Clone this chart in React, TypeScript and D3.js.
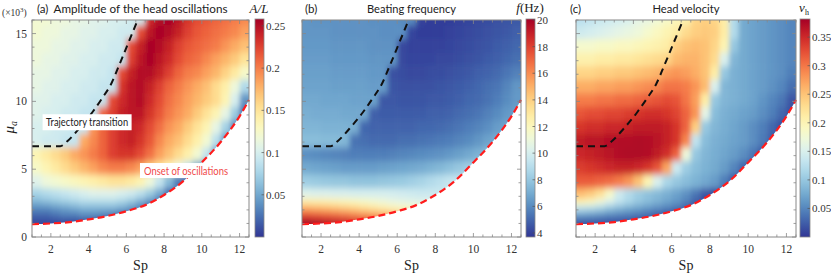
import * as d3 from 'd3';

// Sp cell centres (columns) and mu_a cell centres (rows, top to bottom, x10^3)
const SP_CENTERS = [1.25, 1.75, 2.25, 2.75, 3.25, 3.75, 4.25, 4.75, 5.25, 5.75, 6.25, 6.75, 7.25, 7.75, 8.25, 8.75, 9.25, 9.75, 10.25, 10.75, 11.25, 11.75, 12.25];
const MU_CENTERS = [16.1, 15.1, 14.1, 13.1, 12.1, 11.1, 10.1, 9.1, 8.1, 7.1, 6.1, 5.1, 4.1, 3.1, 2.6, 2.1, 1.6, 1.1];

// onset of oscillations (red dashed)
const ONSET_SP = [1, 2, 3, 4, 5, 6, 7, 8, 9, 10, 11, 12, 12.5];
const ONSET_MU = [0.95, 1.0, 1.1, 1.3, 1.55, 1.9, 2.35, 3.1, 4.1, 5.5, 7.0, 8.9, 10.1];

// trajectory transition (black dashed)
const TRANS_SP = [1, 2.5, 2.9, 3.5, 4.2, 4.7, 5.2, 5.6, 6.1, 6.6];
const TRANS_MU = [6.7, 6.7, 7.1, 8.0, 9.2, 10.2, 11.3, 12.6, 14.3, 16.0];

const X_TICKS = [2, 4, 6, 8, 10, 12];
const Y_TICKS = [0, 5, 10, 15];

// (a) amplitude A/L
const AMP_GRID = [
  [0.12, 0.12, 0.115, 0.115, 0.11, 0.11, 0.105, 0.105, 0.10, 0.10, 0.095, 0.095, 0.235, 0.25, 0.255, 0.245, 0.23, 0.22, 0.215, 0.21, 0.205, 0.20, 0.195],
  [0.12, 0.115, 0.115, 0.11, 0.11, 0.105, 0.105, 0.10, 0.10, 0.095, 0.095, 0.22, 0.245, 0.255, 0.25, 0.24, 0.225, 0.215, 0.21, 0.205, 0.20, 0.195, 0.185],
  [0.115, 0.115, 0.11, 0.11, 0.105, 0.105, 0.10, 0.10, 0.095, 0.095, 0.22, 0.24, 0.255, 0.25, 0.24, 0.225, 0.215, 0.21, 0.205, 0.20, 0.19, 0.18, 0.17],
  [0.115, 0.11, 0.11, 0.105, 0.105, 0.10, 0.10, 0.095, 0.095, 0.09, 0.225, 0.245, 0.255, 0.245, 0.235, 0.22, 0.21, 0.205, 0.195, 0.185, 0.175, 0.165, 0.15],
  [0.11, 0.11, 0.105, 0.105, 0.10, 0.10, 0.095, 0.095, 0.09, 0.22, 0.24, 0.25, 0.25, 0.24, 0.225, 0.21, 0.20, 0.195, 0.185, 0.175, 0.16, 0.145, 0.125],
  [0.11, 0.105, 0.105, 0.10, 0.10, 0.095, 0.095, 0.09, 0.09, 0.23, 0.245, 0.25, 0.24, 0.225, 0.21, 0.20, 0.19, 0.18, 0.17, 0.155, 0.14, 0.115, 0.08],
  [0.105, 0.105, 0.10, 0.10, 0.095, 0.095, 0.09, 0.09, 0.22, 0.235, 0.245, 0.25, 0.235, 0.22, 0.205, 0.195, 0.185, 0.175, 0.165, 0.155, 0.135, 0.10, 0.04],
  [0.105, 0.10, 0.10, 0.095, 0.095, 0.09, 0.09, 0.21, 0.225, 0.24, 0.245, 0.245, 0.23, 0.215, 0.20, 0.19, 0.18, 0.165, 0.15, 0.135, 0.11, 0.07, 0.02],
  [0.10, 0.10, 0.095, 0.095, 0.09, 0.09, 0.19, 0.21, 0.225, 0.235, 0.24, 0.235, 0.22, 0.205, 0.19, 0.18, 0.165, 0.15, 0.135, 0.11, 0.075, 0.035, 0.02],
  [0.10, 0.095, 0.095, 0.09, 0.09, 0.18, 0.195, 0.21, 0.225, 0.235, 0.24, 0.23, 0.215, 0.195, 0.18, 0.17, 0.155, 0.14, 0.12, 0.085, 0.04, 0.02, 0.02],
  [0.135, 0.145, 0.155, 0.165, 0.18, 0.19, 0.20, 0.21, 0.225, 0.23, 0.23, 0.22, 0.205, 0.185, 0.17, 0.155, 0.14, 0.12, 0.09, 0.04, 0.02, 0.02, 0.02],
  [0.125, 0.135, 0.145, 0.155, 0.165, 0.175, 0.185, 0.195, 0.20, 0.20, 0.195, 0.185, 0.165, 0.15, 0.135, 0.115, 0.09, 0.05, 0.02, 0.02, 0.02, 0.02, 0.02],
  [0.105, 0.115, 0.12, 0.125, 0.13, 0.135, 0.14, 0.145, 0.15, 0.15, 0.145, 0.135, 0.115, 0.09, 0.06, 0.03, 0.02, 0.02, 0.02, 0.02, 0.02, 0.02, 0.02],
  [0.075, 0.08, 0.085, 0.09, 0.095, 0.10, 0.105, 0.105, 0.105, 0.10, 0.095, 0.085, 0.07, 0.05, 0.02, 0.02, 0.02, 0.02, 0.02, 0.02, 0.02, 0.02, 0.02],
  [0.055, 0.06, 0.065, 0.07, 0.075, 0.08, 0.08, 0.08, 0.08, 0.075, 0.065, 0.05, 0.035, 0.02, 0.02, 0.02, 0.02, 0.02, 0.02, 0.02, 0.02, 0.02, 0.02],
  [0.035, 0.035, 0.04, 0.045, 0.05, 0.055, 0.055, 0.055, 0.055, 0.05, 0.04, 0.03, 0.015, 0.015, 0.015, 0.015, 0.015, 0.015, 0.015, 0.015, 0.015, 0.015, 0.015],
  [0.02, 0.02, 0.025, 0.03, 0.03, 0.035, 0.035, 0.03, 0.025, 0.015, 0.015, 0.015, 0.015, 0.015, 0.015, 0.015, 0.015, 0.015, 0.015, 0.015, 0.015, 0.015, 0.015],
  [0.008, 0.008, 0.008, 0.008, 0.008, 0.008, 0.008, 0.008, 0.008, 0.008, 0.008, 0.008, 0.008, 0.008, 0.008, 0.008, 0.008, 0.008, 0.008, 0.008, 0.008, 0.008, 0.008],
];

// (b) beating frequency f (Hz)
const FREQ_GRID = [
  [6.3, 6.2, 6.2, 6.2, 6.2, 6.2, 6.2, 6.1, 6.1, 6.1, 6.0, 6.0, 4.0, 3.9, 3.9, 3.9, 4.0, 4.1, 4.2, 4.3, 4.4, 4.5, 4.6],
  [6.3, 6.3, 6.3, 6.2, 6.2, 6.2, 6.2, 6.2, 6.1, 6.1, 6.1, 4.1, 3.9, 3.9, 3.9, 4.0, 4.1, 4.2, 4.3, 4.4, 4.5, 4.6, 4.8],
  [6.4, 6.4, 6.4, 6.3, 6.3, 6.3, 6.3, 6.2, 6.2, 6.2, 4.2, 4.0, 4.0, 4.0, 4.0, 4.1, 4.2, 4.3, 4.4, 4.5, 4.7, 4.8, 5.0],
  [6.5, 6.5, 6.5, 6.4, 6.4, 6.4, 6.4, 6.3, 6.3, 6.3, 4.2, 4.1, 4.1, 4.1, 4.2, 4.2, 4.3, 4.4, 4.5, 4.7, 4.8, 5.0, 5.2],
  [6.6, 6.6, 6.6, 6.5, 6.5, 6.5, 6.5, 6.4, 6.4, 4.4, 4.3, 4.2, 4.2, 4.3, 4.3, 4.4, 4.5, 4.6, 4.8, 4.9, 5.1, 5.4, 5.7],
  [6.7, 6.7, 6.7, 6.6, 6.6, 6.6, 6.6, 6.5, 6.5, 4.5, 4.4, 4.4, 4.4, 4.4, 4.5, 4.6, 4.7, 4.8, 5.0, 5.2, 5.4, 5.8, 6.3],
  [6.9, 6.9, 6.8, 6.8, 6.8, 6.7, 6.7, 6.7, 4.6, 4.6, 4.5, 4.5, 4.5, 4.6, 4.6, 4.7, 4.8, 5.0, 5.1, 5.3, 5.6, 6.0, 6.4],
  [7.1, 7.0, 7.0, 7.0, 6.9, 6.9, 6.9, 4.8, 4.7, 4.7, 4.7, 4.7, 4.7, 4.8, 4.8, 4.9, 5.1, 5.2, 5.4, 5.7, 6.0, 6.4, 6.6],
  [7.3, 7.3, 7.2, 7.2, 7.2, 7.1, 5.0, 4.9, 4.9, 4.9, 4.9, 4.9, 5.0, 5.0, 5.1, 5.2, 5.4, 5.6, 5.8, 6.1, 6.5, 6.8, 6.8],
  [7.6, 7.6, 7.5, 7.5, 7.4, 5.3, 5.2, 5.1, 5.1, 5.1, 5.2, 5.2, 5.3, 5.4, 5.5, 5.6, 5.8, 6.0, 6.3, 6.7, 7.0, 7.0, 7.0],
  [6.1, 6.0, 5.9, 5.8, 5.7, 5.6, 5.6, 5.6, 5.6, 5.7, 5.8, 5.9, 6.0, 6.1, 6.2, 6.4, 6.6, 6.9, 7.2, 7.5, 7.5, 7.5, 7.5],
  [6.9, 6.8, 6.7, 6.6, 6.5, 6.5, 6.5, 6.5, 6.6, 6.7, 6.8, 6.9, 7.0, 7.2, 7.4, 7.7, 8.0, 8.3, 8.3, 8.3, 8.3, 8.3, 8.3],
  [8.2, 8.1, 8.0, 7.9, 7.9, 7.8, 7.8, 7.8, 7.9, 8.0, 8.1, 8.3, 8.5, 8.8, 9.1, 9.4, 9.4, 9.4, 9.4, 9.4, 9.4, 9.4, 9.4],
  [10.3, 10.2, 10.2, 10.1, 10.1, 10.0, 10.0, 10.0, 10.0, 9.9, 9.8, 9.7, 9.6, 9.6, 9.6, 9.6, 9.6, 9.6, 9.6, 9.6, 9.6, 9.6, 9.6],
  [12.8, 12.7, 12.6, 12.4, 12.2, 12.0, 11.7, 11.4, 11.1, 10.8, 10.6, 10.5, 10.4, 10.4, 10.4, 10.4, 10.4, 10.4, 10.4, 10.4, 10.4, 10.4, 10.4],
  [15.2, 15.0, 14.8, 14.6, 14.3, 14.0, 13.6, 13.2, 12.8, 12.4, 12.0, 11.7, 11.5, 11.5, 11.5, 11.5, 11.5, 11.5, 11.5, 11.5, 11.5, 11.5, 11.5],
  [17.6, 17.4, 17.2, 17.0, 16.7, 16.4, 16.1, 15.8, 15.5, 15.2, 15.0, 15.0, 15.0, 15.0, 15.0, 15.0, 15.0, 15.0, 15.0, 15.0, 15.0, 15.0, 15.0],
  [19.8, 19.6, 19.4, 19.1, 18.8, 18.4, 18.0, 17.8, 17.8, 17.8, 17.8, 17.8, 17.8, 17.8, 17.8, 17.8, 17.8, 17.8, 17.8, 17.8, 17.8, 17.8, 17.8],
];

// (c) head velocity v_h
const VEL_GRID = [
  [0.125, 0.13, 0.135, 0.14, 0.145, 0.15, 0.16, 0.165, 0.175, 0.185, 0.195, 0.205, 0.235, 0.24, 0.235, 0.21, 0.12, 0.075, 0.07, 0.065, 0.06, 0.055, 0.05],
  [0.14, 0.145, 0.15, 0.155, 0.16, 0.165, 0.17, 0.18, 0.19, 0.20, 0.21, 0.23, 0.24, 0.245, 0.24, 0.21, 0.12, 0.075, 0.07, 0.065, 0.06, 0.055, 0.05],
  [0.18, 0.18, 0.185, 0.185, 0.19, 0.19, 0.195, 0.20, 0.205, 0.21, 0.24, 0.25, 0.255, 0.25, 0.235, 0.20, 0.10, 0.075, 0.07, 0.065, 0.06, 0.055, 0.05],
  [0.205, 0.205, 0.21, 0.21, 0.215, 0.215, 0.22, 0.225, 0.23, 0.235, 0.255, 0.26, 0.26, 0.25, 0.23, 0.15, 0.085, 0.075, 0.07, 0.065, 0.06, 0.055, 0.05],
  [0.235, 0.235, 0.24, 0.24, 0.245, 0.245, 0.25, 0.255, 0.26, 0.275, 0.28, 0.275, 0.265, 0.25, 0.21, 0.10, 0.08, 0.075, 0.07, 0.065, 0.06, 0.055, 0.045],
  [0.265, 0.265, 0.27, 0.27, 0.275, 0.275, 0.28, 0.285, 0.29, 0.30, 0.30, 0.295, 0.28, 0.255, 0.15, 0.085, 0.08, 0.075, 0.07, 0.065, 0.058, 0.05, 0.035],
  [0.295, 0.295, 0.30, 0.30, 0.305, 0.305, 0.31, 0.315, 0.32, 0.325, 0.32, 0.30, 0.275, 0.21, 0.10, 0.085, 0.08, 0.075, 0.07, 0.06, 0.05, 0.04, 0.02],
  [0.32, 0.325, 0.325, 0.33, 0.33, 0.335, 0.34, 0.345, 0.345, 0.34, 0.33, 0.31, 0.28, 0.16, 0.09, 0.08, 0.075, 0.07, 0.065, 0.055, 0.045, 0.03, 0.015],
  [0.34, 0.345, 0.345, 0.35, 0.35, 0.355, 0.36, 0.36, 0.36, 0.355, 0.34, 0.31, 0.24, 0.10, 0.085, 0.078, 0.072, 0.065, 0.055, 0.045, 0.03, 0.015, 0.01],
  [0.36, 0.365, 0.365, 0.37, 0.37, 0.37, 0.372, 0.37, 0.365, 0.355, 0.34, 0.29, 0.13, 0.09, 0.08, 0.075, 0.07, 0.065, 0.055, 0.042, 0.025, 0.01, 0.01],
  [0.35, 0.355, 0.36, 0.365, 0.37, 0.372, 0.372, 0.37, 0.36, 0.345, 0.31, 0.17, 0.10, 0.085, 0.078, 0.072, 0.065, 0.055, 0.04, 0.02, 0.01, 0.01, 0.01],
  [0.335, 0.34, 0.345, 0.35, 0.355, 0.355, 0.35, 0.34, 0.32, 0.27, 0.14, 0.105, 0.09, 0.082, 0.075, 0.065, 0.05, 0.03, 0.01, 0.01, 0.01, 0.01, 0.01],
  [0.315, 0.315, 0.31, 0.305, 0.295, 0.28, 0.25, 0.20, 0.15, 0.115, 0.10, 0.09, 0.082, 0.074, 0.065, 0.045, 0.02, 0.01, 0.01, 0.01, 0.01, 0.01, 0.01],
  [0.255, 0.245, 0.225, 0.185, 0.14, 0.12, 0.105, 0.095, 0.088, 0.08, 0.07, 0.058, 0.04, 0.02, 0.01, 0.01, 0.01, 0.01, 0.01, 0.01, 0.01, 0.01, 0.01],
  [0.20, 0.19, 0.17, 0.15, 0.13, 0.115, 0.10, 0.09, 0.08, 0.07, 0.06, 0.045, 0.025, 0.01, 0.01, 0.01, 0.01, 0.01, 0.01, 0.01, 0.01, 0.01, 0.01],
  [0.125, 0.12, 0.11, 0.095, 0.085, 0.075, 0.068, 0.06, 0.052, 0.045, 0.035, 0.025, 0.01, 0.01, 0.01, 0.01, 0.01, 0.01, 0.01, 0.01, 0.01, 0.01, 0.01],
  [0.065, 0.06, 0.055, 0.05, 0.046, 0.042, 0.038, 0.032, 0.025, 0.012, 0.012, 0.012, 0.012, 0.012, 0.012, 0.012, 0.012, 0.012, 0.012, 0.012, 0.012, 0.012, 0.012],
  [0.02, 0.02, 0.018, 0.016, 0.015, 0.014, 0.01, 0.01, 0.01, 0.01, 0.01, 0.01, 0.01, 0.01, 0.01, 0.01, 0.01, 0.01, 0.01, 0.01, 0.01, 0.01, 0.01],
];

const AMP_TICKS = [0.05, 0.1, 0.15, 0.2, 0.25];
const FREQ_TICKS = [4, 6, 8, 10, 12, 14, 16, 18, 20];
const VEL_TICKS = [0.05, 0.1, 0.15, 0.2, 0.25, 0.3, 0.35];

const TOP = 20, BOTTOM = 237;
const SERIF = '"Liberation Serif", "DejaVu Serif", serif';
const SANS = 'Lato, "Open Sans", sans-serif';
const GRAY = '#888';

interface PanelCfg {
  id: string;
  left: number;
  right: number;
  grid: number[][];
  domain: [number, number];
  cbTicks: number[];
  cbX0: number;
  cbX1: number;
  letter: string;
  letterX: number;
  title: string;
  titleLen: number;
  showY: boolean;
}

const PANELS: PanelCfg[] = [
  { id: 'a', left: 32, right: 249, grid: AMP_GRID, domain: [0, 0.257], cbTicks: AMP_TICKS, cbX0: 255, cbX1: 264, letter: '(a)', letterX: 37, title: 'Amplitude of the head oscillations', titleLen: 174, showY: true },
  { id: 'b', left: 302, right: 521, grid: FREQ_GRID, domain: [3.7, 20], cbTicks: FREQ_TICKS, cbX0: 526, cbX1: 535, letter: '(b)', letterX: 305, title: 'Beating frequency', titleLen: 89, showY: false },
  { id: 'c', left: 576, right: 796, grid: VEL_GRID, domain: [0, 0.38], cbTicks: VEL_TICKS, cbX0: 800, cbX1: 810, letter: '(c)', letterX: 570, title: 'Head velocity', titleLen: 67, showY: false },
];

function edges(centers: number[], ext: number) {
  return centers.map((c, i) => {
    const a = i === 0 ? c - ext * Math.sign(centers[1] - c) : (centers[i - 1] + c) / 2;
    const b = i === centers.length - 1 ? c + ext * Math.sign(c - centers[i - 1]) : (c + centers[i + 1]) / 2;
    return [a, b];
  });
}

const colorFn = (t: number) => d3.interpolateRdYlBu(1 - t);

function Panel({ p }: { p: PanelCfg }) {
  const xs = d3.scaleLinear().domain([1, 12.5]).range([p.left, p.right]);
  const ys = d3.scaleLinear().domain([0, 16]).range([BOTTOM, TOP]);
  const color = d3.scaleSequential(colorFn).domain(p.domain).clamp(true);
  const cb = d3.scaleLinear().domain(p.domain).range([BOTTOM, TOP]);

  const spE = edges(SP_CENTERS, 1.2);
  const muE = edges(MU_CENTERS, 1.5);

  const onsetPts = ONSET_SP.map((s, i) => [s, ONSET_MU[i]] as [number, number]);
  const transPts = TRANS_SP.map((s, i) => [s, TRANS_MU[i]] as [number, number]);

  const clipArea = d3.area<[number, number]>()
    .x(d => xs(d[0])).y0(d => ys(d[1])).y1(ys(16))
    .curve(d3.curveMonotoneX)(onsetPts) as string;
  const onsetLine = d3.line<[number, number]>()
    .x(d => xs(d[0])).y(d => ys(d[1])).curve(d3.curveMonotoneX)(onsetPts) as string;
  const transLine = d3.line<[number, number]>()
    .x(d => xs(d[0])).y(d => ys(d[1])).curve(d3.curveMonotoneX)(transPts) as string;

  const minorX = d3.range(1, 12.51, 0.5);
  const minorY = d3.range(0, 16.01, 1);
  const w = p.right - p.left, h = BOTTOM - TOP;
  const stops = d3.range(0, 1.0001, 0.05);

  return (
    <g>
      <defs>
        <clipPath id={`clip-${p.id}`}><path d={clipArea} /></clipPath>
        <filter id={`blur-${p.id}`} filterUnits="userSpaceOnUse" x={p.left - 30} y={TOP - 30} width={w + 60} height={h + 60}>
          <feGaussianBlur stdDeviation="2.6 3.6" />
        </filter>
        <linearGradient id={`cb-${p.id}`} x1="0" y1="1" x2="0" y2="0">
          {stops.map(t => <stop key={t} offset={t} stopColor={colorFn(t)} />)}
        </linearGradient>
      </defs>

      <rect x={p.left} y={TOP} width={w} height={h} fill="#fff" />
      <g clipPath={`url(#clip-${p.id})`}>
        <g filter={`url(#blur-${p.id})`}>
          {p.grid.map((row, ri) => row.map((v, ci) => {
            const [m0, m1] = muE[ri];
            const [s0, s1] = spE[ci];
            const x0 = xs(s0), x1 = xs(s1);
            const y0 = ys(Math.max(m0, m1)), y1 = ys(Math.min(m0, m1));
            return <rect key={`${ri}-${ci}`} x={x0} y={y0} width={x1 - x0 + 0.6} height={y1 - y0 + 0.6} fill={color(v)} />;
          }))}
        </g>
      </g>

      <path d={transLine} fill="none" stroke="#111" strokeWidth={2} strokeDasharray="7 5" />
      <path d={onsetLine} fill="none" stroke="#ff1c1c" strokeWidth={2.2} strokeDasharray="7 4" />

      {/* frame + inward ticks on all sides */}
      <rect x={p.left} y={TOP} width={w} height={h} fill="none" stroke={GRAY} strokeWidth={1} />
      {minorX.map(v => {
        const L = X_TICKS.includes(v) ? 4 : 2.5;
        return (
          <g key={`x${v}`} stroke={GRAY} strokeWidth={0.8}>
            <line x1={xs(v)} x2={xs(v)} y1={BOTTOM} y2={BOTTOM - L} />
            <line x1={xs(v)} x2={xs(v)} y1={TOP} y2={TOP + L} />
          </g>
        );
      })}
      {minorY.map(v => {
        const L = Y_TICKS.includes(v) ? 4 : 2.5;
        return (
          <g key={`y${v}`} stroke={GRAY} strokeWidth={0.8}>
            <line x1={p.left} x2={p.left + L} y1={ys(v)} y2={ys(v)} />
            <line x1={p.right} x2={p.right - L} y1={ys(v)} y2={ys(v)} />
          </g>
        );
      })}
      {X_TICKS.map(v => (
        <text key={`xl${v}`} x={xs(v)} y={253} textAnchor="middle" fontFamily={SERIF} fontSize={11.5} fill="#333">{v}</text>
      ))}
      {p.showY && Y_TICKS.map(v => (
        <text key={`yl${v}`} x={p.left - 5} y={ys(v) + 4} textAnchor="end" fontFamily={SERIF} fontSize={11.5} fill="#333">{v}</text>
      ))}
      <text x={(p.left + p.right) / 2} y={270} textAnchor="middle" fontFamily={SERIF} fontSize={14} fill="#222">Sp</text>

      {/* titles */}
      <text x={p.letterX} y={13} fontFamily={SANS} fontSize={11.5} fill="#222">{p.letter}</text>
      <text x={(p.left + p.right) / 2} y={13} textAnchor="middle" fontFamily={SANS} fontSize={11.5} fill="#222"
        textLength={p.titleLen} lengthAdjust="spacingAndGlyphs">{p.title}</text>

      {/* colorbar */}
      <rect x={p.cbX0} y={TOP - 1} width={p.cbX1 - p.cbX0} height={h + 1} fill={`url(#cb-${p.id})`} stroke={GRAY} strokeWidth={0.8} />
      {p.cbTicks.map(v => (
        <g key={`cb${v}`}>
          <line x1={p.cbX1} x2={p.cbX1 - 2.5} y1={cb(v)} y2={cb(v)} stroke="#555" strokeWidth={0.7} />
          <text x={p.cbX1 + 2} y={cb(v) + 4} fontFamily={SERIF} fontSize={11} fill="#333">{d3.format('~g')(v)}</text>
        </g>
      ))}
    </g>
  );
}

export default function App() {
  const pa = PANELS[0];
  const xa = d3.scaleLinear().domain([1, 12.5]).range([pa.left, pa.right]);
  const ya = d3.scaleLinear().domain([0, 16]).range([BOTTOM, TOP]);
  return (
    <svg width={831} height={275} style={{ position: 'absolute', left: 0, top: 0, background: '#fff' }}>
      {PANELS.map(p => <Panel key={p.id} p={p} />)}

      {/* annotations in panel (a) */}
      <rect x={xa(3.92) - 44.5} y={ya(8.46) - 8} width={89} height={16} fill="#fff" />
      <text x={xa(3.92)} y={ya(8.46) + 4} textAnchor="middle" fontFamily={SANS} fontSize={10.5} fill="#222"
        textLength={82} lengthAdjust="spacingAndGlyphs">Trajectory transition</text>
      <rect x={xa(9.16) - 46} y={ya(4.9) - 7.5} width={92} height={15} fill="#fff" />
      <text x={xa(9.16)} y={ya(4.9) + 4} textAnchor="middle" fontFamily={SANS} fontSize={10.5} fill="#f04848"
        textLength={84} lengthAdjust="spacingAndGlyphs">Onset of oscillations</text>

      {/* y axis label and scale */}
      <text x={2} y={16} fontFamily={SERIF} fontSize={9.5} fill="#333">(×10<tspan dy={-4} fontSize={7}>3</tspan><tspan dy={4}>)</tspan></text>
      <text transform={`translate(14,${ya(8.1)}) rotate(-90)`} textAnchor="middle" fontFamily={SERIF} fontSize={15} fontStyle="italic" fill="#222">
        μ<tspan dy={3} fontSize={10}>a</tspan>
      </text>

      {/* colorbar titles */}
      <text x={259} y={13} textAnchor="middle" fontFamily={SERIF} fontSize={13} fontStyle="italic" fill="#222">A/L</text>
      <text x={530} y={12} textAnchor="middle" fontFamily={SERIF} fontSize={13} fill="#222">
        <tspan fontStyle="italic">f</tspan>(Hz)
      </text>
      <text x={804} y={12} textAnchor="middle" fontFamily={SERIF} fontSize={13} fill="#222">
        <tspan fontStyle="italic">v</tspan><tspan dy={3} fontSize={8}>h</tspan>
      </text>
    </svg>
  );
}
